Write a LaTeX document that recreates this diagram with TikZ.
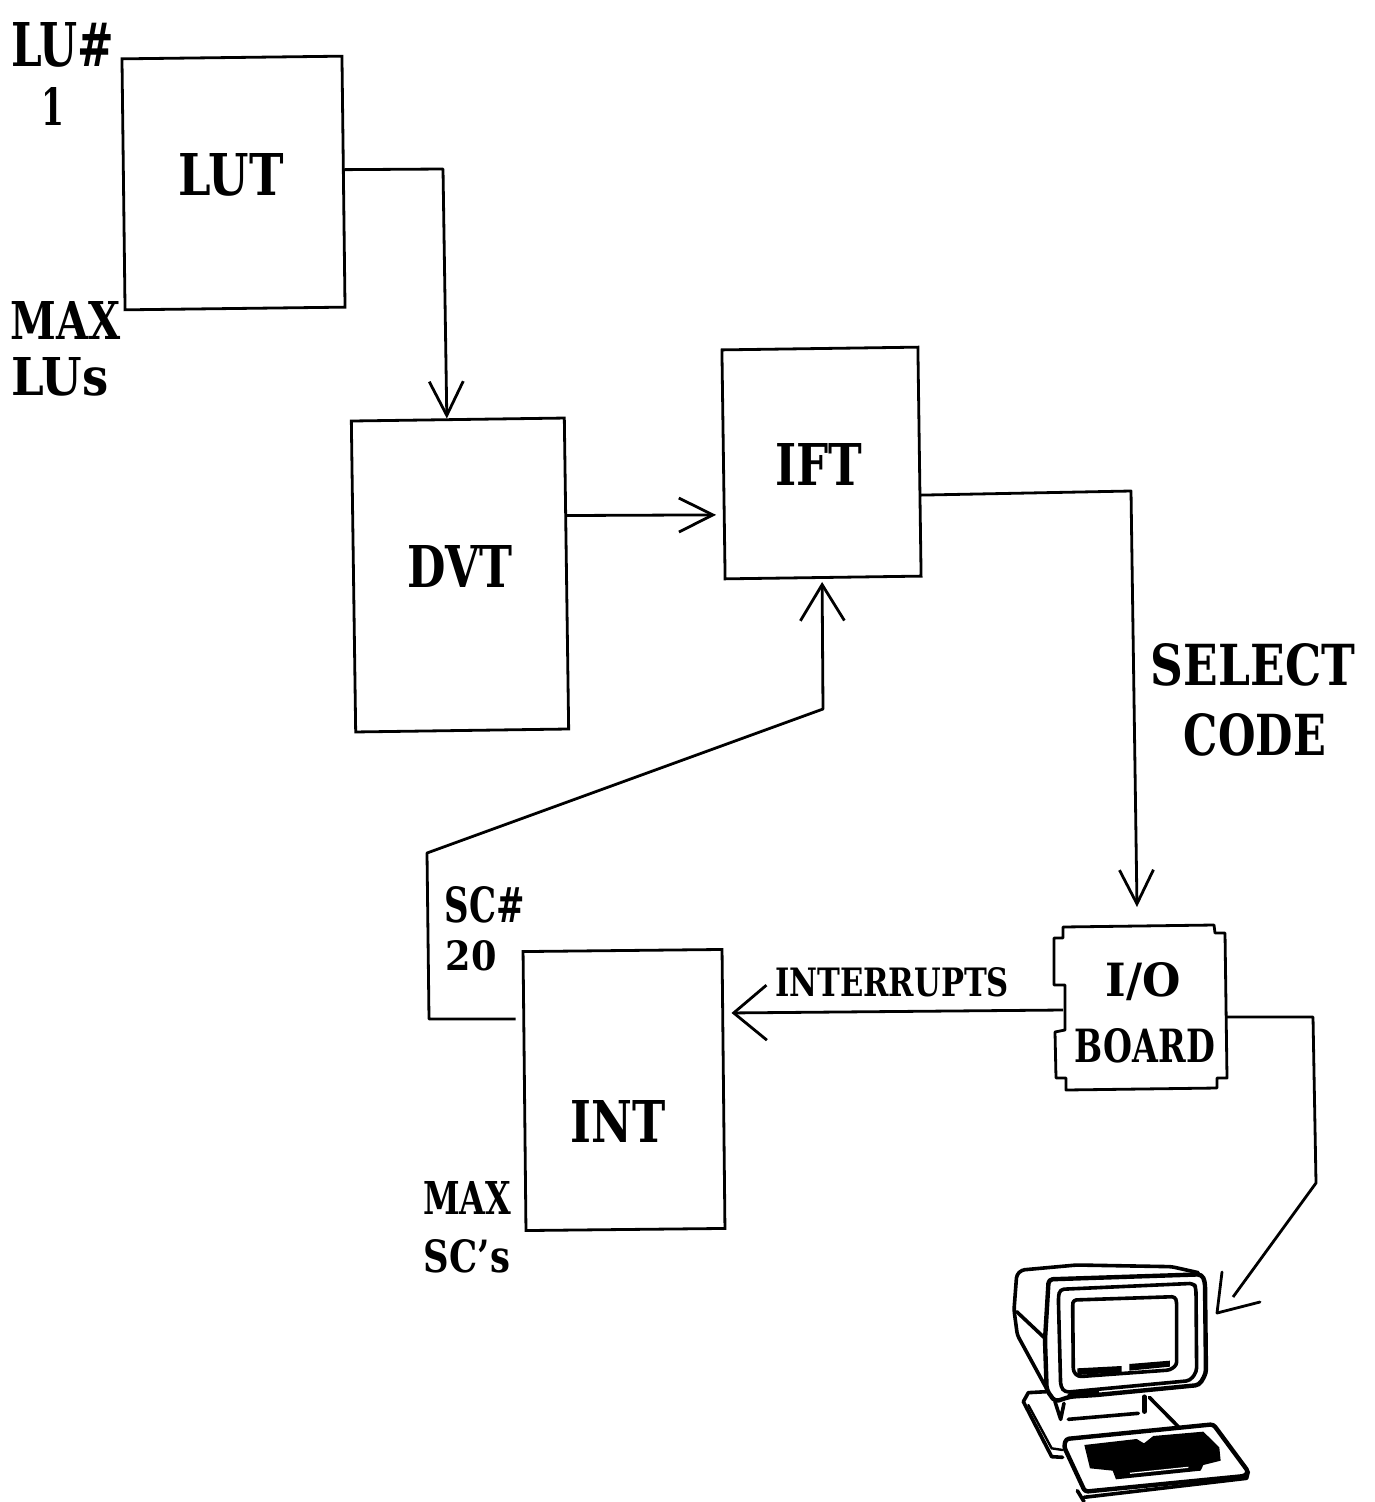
\documentclass[tikz,border=0pt]{standalone}
\usepackage{graphicx}
\usepackage{fontspec}
\setmainfont{DejaVu Serif}
\usetikzlibrary{arrows.meta,calc}
\newcommand{\fitt}[3]{\resizebox{#1pt}{#2pt}{\bfseries #3}}
\tikzset{
  boxn/.style={draw=black,line width=2.8pt,inner sep=0pt,outer sep=0pt,rectangle},
  tx/.style={inner sep=0pt,outer sep=0pt,text=black},
  wire/.style={draw=black,line width=2.8pt,line join=round},
  arr/.style={wire,-{Straight Barb[length=34pt,width=34pt,line width=2.8pt]}},
  arrwide/.style={wire,-{Straight Barb[length=36pt,width=44pt,line width=2.8pt]}},
  arrwider/.style={wire,-{Straight Barb[length=33pt,width=55pt,line width=2.8pt]}},
  termline/.style={draw=black,line width=3.6pt,line join=round,line cap=round},
}
\begin{document}
\begin{tikzpicture}[x=1pt,y=-1pt]
\useasboundingbox (0,0) rectangle (1375,1502);
% boxes
\node[boxn,rotate=0.7,minimum width=220pt,minimum height=251pt] (lut) at (233.5,183) {};
\node[boxn,rotate=0.8,minimum width=213pt,minimum height=311pt] (dvt) at (460,575) {};
\node[boxn,rotate=0.8,minimum width=196pt,minimum height=229pt] (ift) at (821.5,463) {};
\node[boxn,rotate=0.6,minimum width=199pt,minimum height=279pt] (int) at (624,1090) {};
\node[inner sep=0pt,outer sep=0pt,minimum width=170pt,minimum height=164pt] (io) at (1140,1007) {};
\draw[wire] (1063,927) -- (1214,925) -- (1215,933) -- (1225,933) -- (1227,1078) -- (1217,1078) -- (1217,1088) -- (1066,1090) -- (1066,1078) -- (1056,1078) -- (1055,1032) -- (1065,1030) -- (1065,985) -- (1054,985) -- (1054,938) -- (1063,938) -- cycle;
% labels
\node[tx] (t1) at (63,45) {\fitt{103}{44}{LU\#}};
\node[tx] (t2) at (53,106) {\fitt{23}{38}{1}};
\node[tx] (t3) at (66,320) {\fitt{110}{38}{MAX}};
\node[tx] (t4) at (60,377) {\fitt{97}{38}{LUs}};
\node[tx] (t5) at (231,175) {\fitt{105}{42}{LUT}};
\node[tx] (t6) at (460,566) {\fitt{105}{42}{DVT}};
\node[tx] (t7) at (819,464) {\fitt{87}{42}{IFT}};
\node[tx] (t8) at (618,1121) {\fitt{95}{42}{INT}};
\node[tx] (t9) at (1253,665) {\fitt{204}{42}{SELECT}};
\node[tx] (t10) at (1255,735) {\fitt{142}{42}{CODE}};
\node[tx] (t11) at (485,905) {\fitt{80}{36}{SC\#}};
\node[tx] (t12) at (471,956) {\fitt{51}{30}{20}};
\node[tx] (t13) at (892,982) {\fitt{234}{29}{INTERRUPTS}};
\node[tx] (t14) at (1143,982) {\fitt{75}{34}{I/O}};
\node[tx] (t15) at (1145,1046) {\fitt{140}{34}{BOARD}};
\node[tx] (t16) at (467,1198) {\fitt{88}{33}{MAX}};
\node[tx] (t17) at (467,1256) {\fitt{86}{33}{SC's}};
% connector bends
\coordinate (b1) at (443,169);
\coordinate (b2) at (429,1019);
\coordinate (b3) at (427,853);
\coordinate (b4) at (823,709);
\coordinate (b5) at (1131,491);
\coordinate (b6) at (1313,1017);
\coordinate (b7) at (1316,1183);
\coordinate (shaftend) at (1233,1297);
\coordinate (termtip) at (1217,1313);
\coordinate (termarma) at (1222,1272);
\coordinate (termarmb) at (1260,1302);
% connectors
\draw[arr] ([yshift=12pt]lut.east) -- (b1) -- ([xshift=-11pt,yshift=1pt]dvt.north);
\draw[arr] ([yshift=58pt]dvt.east) -- ([xshift=-7.5pt,yshift=-50.5pt]ift.west);
\draw[arrwide] ([xshift=-9pt,yshift=72pt]int.west) -- (b2) -- (b3) -- (b4) -- ([xshift=-1pt,yshift=-4.5pt]ift.south);
\draw[arr] ([yshift=-33.5pt]ift.east) -- (b5) -- ([xshift=-3pt,yshift=18pt]io.north);
\draw[arrwider] ([xshift=8pt,yshift=-3pt]io.west) -- ([xshift=8pt,yshift=76pt]int.east);
\draw[wire] ([xshift=1pt,yshift=-10pt]io.east) -- (b6) -- (b7) -- (shaftend);
\draw[wire,line cap=round] (termarma) -- (termtip) -- (termarmb);
% terminal
\begin{scope}[shift={(990,1240)},x=0.3333pt,y=-0.3333pt]
\draw[termline,rounded corners=3pt] (625,98) -- (545,80) -- (260,75) -- (95,90) -- (80,105) -- (72,210) -- (82,285) -- (172,450);
\draw[termline] (80,215) -- (165,295);
\draw[termline,line width=4.4pt,rounded corners=4pt] (165,300) -- (176,118) -- (635,103) -- (645,125) -- (648,400) -- (628,435) -- (320,465) -- (240,470) -- (195,485) -- (170,450) -- cycle;
\draw[termline,rounded corners=4pt] (205,170) -- (210,148) -- (612,130) -- (618,145) -- (620,395) -- (600,422) -- (225,457) -- (212,440) -- cycle;
\draw[termline,rounded corners=3pt] (248,195) -- (250,180) -- (555,170) -- (560,185) -- (560,375) -- (540,390) -- (265,410) -- (250,395) -- cycle;
\fill[black] (262,385) -- (395,378) -- (395,397) -- (262,405) -- cycle;
\fill[black] (418,372) -- (540,362) -- (540,380) -- (418,392) -- cycle;
\draw[termline,line width=5.5pt] (240,467) -- (320,458);
\draw[termline] (195,485) -- (212,538) -- (222,490);
\draw[termline] (235,538) -- (445,520);
\draw[termline,line width=4.4pt] (463,470) -- (463,515);
\draw[termline] (170,455) -- (115,458) -- (100,485) -- (185,650) -- (218,652);
\draw[termline,line width=2.4pt] (115,495) -- (185,625) -- (218,630);
\draw[termline] (478,472) -- (565,560);
\draw[termline,line width=4.4pt,rounded corners=3pt] (222,620) -- (228,597) -- (670,553) -- (775,695) -- (765,708) -- (285,755) -- cycle;
\draw[termline] (262,752) -- (282,785);
\draw[termline] (282,772) -- (770,715) -- (775,695);
\fill[black] (283,615) -- (440,597) -- (462,610) -- (490,588) -- (640,575) -- (688,622) -- (692,662) -- (640,675) -- (632,692) -- (378,718) -- (368,692) -- (300,685) -- cycle;
\draw[white,line width=1.2pt] (420,700) -- (595,682);
\end{scope}
\end{tikzpicture}
\end{document}
